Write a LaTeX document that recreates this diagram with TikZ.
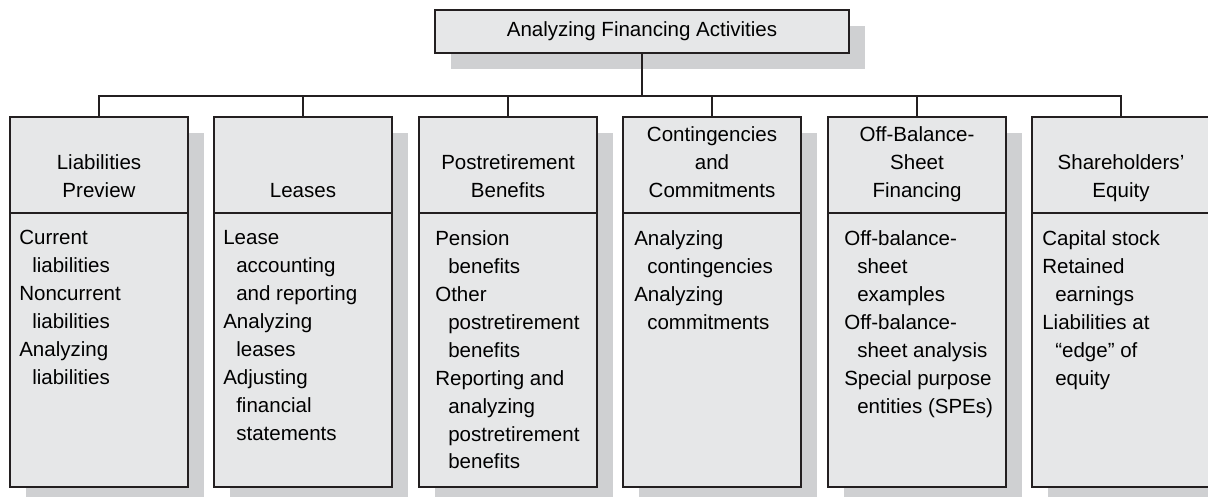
\documentclass[tikz,border=0pt]{standalone}
\usepackage{fontspec}
\setmainfont{Liberation Sans}
\usetikzlibrary{positioning,shadows}
\definecolor{boxgray}{HTML}{E6E7E8}
\definecolor{shadowgray}{HTML}{CFD0D2}
\definecolor{linedark}{HTML}{231F20}
\tikzset{
   boxshadow/.style = {drop shadow={shadow xshift=4mm, shadow yshift=-4mm, fill=shadowgray, opacity=1}},
   titlebox/.style = {draw=linedark, line width=0.7mm, fill=boxgray, boxshadow, minimum width=103.5mm, minimum height=10.75mm, inner sep=0pt, font=\fontsize{14.6}{19.9}\selectfont},
   headbox/.style = {draw=linedark, line width=0.7mm, fill=boxgray, boxshadow, minimum width=44.5mm, minimum height=24mm, inner sep=0pt, outer sep=0pt},
   bodybox/.style = {headbox, minimum height=68.5mm},
   headtext/.style = {align=center, inner sep=0pt, text depth=0pt, font=\fontsize{14.6}{19.9}\selectfont},
   itemtext/.style = {align=left, inner sep=0pt, font=\fontsize{14.6}{19.9}\selectfont},
   conn/.style = {draw=linedark, line width=0.7mm}
}
\newcommand{\ind}{\hspace*{3.25mm}}
\newcommand{\finbox}[5]{
   \node[headbox] (#1) at (#2,165) {};
   \node[bodybox, below=0pt of #1] (#1body) {};
   \node[headtext, above=3.75mm of #1.south] (#1head) {#3};
   \node[itemtext, below right=4.25mm and #5 of #1body.north west] (#1items) {#4};
   \draw[conn] (title.south) -- (title.south |- bus) -| (#1.north);
}

\begin{document}
\begin{tikzpicture}[x=0.25mm, y=-0.25mm]
		\useasboundingbox (0,0) rectangle (1208,496);
		
		% Top
		\node[titlebox] (title) at (642,31.5) {Analyzing Financing Activities};
		\coordinate (bus) at (0,96);
		
		% Columns
		\finbox{liab}{99}{Liabilities\\Preview}{Current\\\ind liabilities\\Noncurrent\\\ind liabilities\\Analyzing\\\ind liabilities}{2.25mm}
		%
		\finbox{lease}{303}{Leases}{Lease\\\ind accounting\\\ind and reporting\\Analyzing\\\ind leases\\Adjusting\\\ind financial\\\ind statements}{2.25mm}
		%
		\finbox{post}{508}{Postretirement\\Benefits}{Pension\\\ind benefits\\Other\\\ind postretirement\\\ind benefits\\Reporting and\\\ind analyzing\\\ind postretirement\\\ind benefits}{4mm}
		%
		\finbox{cont}{712}{Contingencies\\and\\Commitments}{Analyzing\\\ind contingencies\\Analyzing\\\ind commitments}{2.75mm}
		%
		\finbox{offbs}{917}{Off-Balance-\\Sheet\\Financing}{Off-balance-\\\ind sheet\\\ind examples\\Off-balance-\\\ind sheet analysis\\Special purpose\\\ind entities (SPEs)}{4mm}
		%
		\finbox{equity}{1121}{Shareholders’\\Equity}{Capital stock\\Retained\\\ind earnings\\Liabilities at\\\ind “edge” of\\\ind equity}{2.5mm}
	\end{tikzpicture}
\end{document}
